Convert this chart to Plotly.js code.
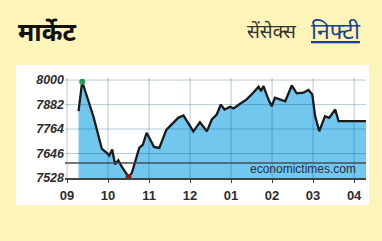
<!DOCTYPE html>
<html>
<head>
<meta charset="utf-8">
<script src="https://cdn.plot.ly/plotly-3.0.1.min.js"></script>
<style>
  html, body { margin: 0; padding: 0; background: #fcf4b8; }
  #chart { width: 382px; height: 241px; }
</style>
</head>
<body>
<div id="chart"></div>
<script>
// x positions in months since start of September (09 = 0)
const months = [0.28, 0.37, 0.64, 0.85, 0.97, 1.03, 1.10, 1.17, 1.25, 1.33, 1.50, 1.58, 1.76, 1.85, 1.94, 2.02, 2.12, 2.25, 2.42, 2.51, 2.59, 2.71, 2.84, 2.92, 3.08, 3.24, 3.41, 3.53, 3.65, 3.75, 3.84, 3.98, 4.06, 4.22, 4.38, 4.54, 4.67, 4.73, 4.79, 4.91, 4.99, 5.07, 5.32, 5.48, 5.60, 5.76, 5.89, 5.98, 6.05, 6.15, 6.29, 6.39, 6.54, 6.62, 7.29];
const nifty  = [7850, 7992, 7826, 7668, 7649, 7636, 7665, 7594, 7613, 7584, 7533, 7552, 7673, 7689, 7746, 7713, 7678, 7673, 7760, 7778, 7794, 7818, 7829, 7802, 7753, 7797, 7753, 7810, 7834, 7882, 7858, 7871, 7863, 7886, 7907, 7939, 7968, 7947, 7971, 7907, 7874, 7915, 7898, 7974, 7936, 7939, 7952, 7931, 7826, 7753, 7826, 7818, 7858, 7802, 7802];
const monthTickVals = [0, 1, 2, 3, 4, 5, 6, 7];
const monthTickText = ['09', '10', '11', '12', '01', '02', '03', '04'];
const yTickVals = [7528, 7646, 7764, 7882, 8000];
const bandLineValue = 7600;

const iMax = nifty.indexOf(Math.max(...nifty));
const iMin = nifty.indexOf(Math.min(...nifty));

const gridColor = 'rgba(0,60,110,0.28)';
const shapes = [
  // white panel
  {type:'rect', xref:'paper', yref:'paper', x0:-0.163, x1:1.01, y0:-0.27, y1:1.13,
   fillcolor:'#ffffff', line:{width:0}, layer:'below'}
];
monthTickVals.forEach(v => shapes.push({type:'line', xref:'x', yref:'paper', x0:v, x1:v, y0:0, y1:1,
  line:{color:gridColor, width:1}, layer:'above'}));
yTickVals.slice(1).forEach(v => shapes.push({type:'line', xref:'paper', yref:'y', x0:0, x1:1, y0:v, y1:v,
  line:{color:gridColor, width:1}, layer:'above'}));
shapes.push({type:'line', xref:'paper', yref:'y', x0:0, x1:1, y0:bandLineValue, y1:bandLineValue,
  line:{color:'#474c50', width:1.6}, layer:'above'});

const traces = [
  {x: months, y: nifty, type:'scatter', mode:'lines', fill:'tozeroy',
   fillcolor:'#72c7ee', line:{color:'#1a1a1a', width:2.3}, hoverinfo:'skip'},
  {x:[months[iMax], months[iMin]], y:[nifty[iMax], nifty[iMin]], type:'scatter', mode:'markers',
   marker:{size:6, color:['#2e9a4a', '#8a1c1c']}, hoverinfo:'skip'}
];

const devFont = 'Noto Sans Devanagari, Noto Sans, sans-serif';
const layout = {
  width: 382, height: 241,
  margin: {l:65, r:16, t:78, b:63},
  paper_bgcolor: '#fcf4b8',
  plot_bgcolor: 'rgba(0,0,0,0)',
  showlegend: false,
  xaxis: {
    range: [-0.05, 7.29], tickvals: monthTickVals, ticktext: monthTickText,
    showgrid: false, zeroline: false, showline: true, linecolor:'#444', linewidth:1.6,
    ticks:'outside', ticklen:3, tickcolor:'#444', ticklabelstandoff: 2,
    tickfont: {family:'Liberation Sans, Arial, sans-serif', size:13, color:'#2d2d2d', weight:'bold'},
    fixedrange: true
  },
  yaxis: {
    range: [7528, 8010], tickvals: yTickVals, ticktext: yTickVals.map(String),
    showgrid: false, zeroline: false, showline: false, ticks:'',
    tickfont: {family:'Liberation Sans, Arial, sans-serif', size:12.5, color:'#2d2d2d', weight:'bold', style:'italic'},
    fixedrange: true
  },
  shapes: shapes,
  annotations: [
    {xref:'paper', yref:'paper', x:-0.163, y:1.44, xanchor:'left', yanchor:'middle', showarrow:false,
     text:'<b>मार्केट</b>', font:{family:devFont, size:25, color:'#111'}},
    {xref:'paper', yref:'paper', x:0.598, y:1.45, xanchor:'left', yanchor:'middle', showarrow:false,
     text:'सेंसेक्स', font:{family:devFont, size:19, color:'#333'}},
    {xref:'paper', yref:'paper', x:0.81, y:1.45, xanchor:'left', yanchor:'middle', showarrow:false,
     text:'<u>निफ्टी</u>', font:{family:devFont, size:23, color:'#1c3f94'}},
    {xref:'x', yref:'y', x:5.76, y:7569, xanchor:'center', yanchor:'middle', showarrow:false,
     text:'economictimes.com', font:{family:'Liberation Sans, Arial, sans-serif', size:12, color:'#22303a'}}
  ]
};

Plotly.newPlot('chart', traces, layout, {staticPlot:true, displayModeBar:false});
</script>
</body>
</html>
